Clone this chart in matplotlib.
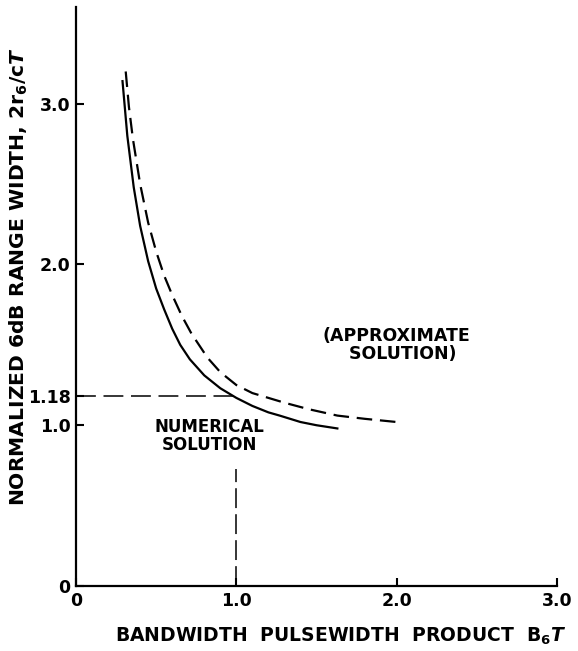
import matplotlib
matplotlib.use("Agg")
import matplotlib.pyplot as plt

plt.rcParams["font.family"] = ["DejaVu Sans"]
plt.rcParams["font.weight"] = "bold"

# Numerical solution (solid curve)
num_x = [0.29, 0.32, 0.36, 0.40, 0.45, 0.50, 0.55, 0.60, 0.65, 0.71, 0.80,
         0.90, 1.00, 1.10, 1.20, 1.27, 1.40, 1.50, 1.63]
num_y = [3.14, 2.80, 2.48, 2.24, 2.02, 1.85, 1.72, 1.60, 1.50, 1.41, 1.31,
         1.23, 1.17, 1.12, 1.08, 1.06, 1.02, 1.00, 0.98]

# Approximate solution (dashed curve)
apx_x = [0.31, 0.33, 0.355, 0.40, 0.45, 0.50, 0.55, 0.60, 0.66, 0.72, 0.82,
         0.90, 1.00, 1.10, 1.20, 1.30, 1.45, 1.63, 1.80, 2.00]
apx_y = [3.20, 2.98, 2.78, 2.50, 2.26, 2.08, 1.93, 1.81, 1.68, 1.57, 1.42,
         1.33, 1.25, 1.20, 1.17, 1.14, 1.10, 1.06, 1.04, 1.02]

# Marked operating point
mark_x = 1.0
mark_y = 1.18

x_ticks = [0, 1.0, 2.0, 3.0]
x_labels = ["0", "1.0", "2.0", "3.0"]
y_ticks = [0, 1.0, 1.18, 2.0, 3.0]
y_labels = ["0", "1.0", "1.18", "2.0", "3.0"]

fig = plt.figure(figsize=(5.78, 6.51), dpi=100)
ax = fig.add_axes([0.1315, 0.0998, 0.9637 - 0.1315, 0.989 - 0.0998])

ax.plot(num_x, num_y, color="black", linewidth=1.6)
ax.plot(apx_x, apx_y, color="black", linewidth=1.6, dashes=(7, 3.5))

# guide lines to the marked point
ax.plot([0, mark_x], [mark_y, mark_y], color="black", linewidth=1.1, dashes=(13, 5))
ax.plot([mark_x, mark_x], [0, 0.73], color="black", linewidth=1.1, dashes=(13, 4))

ax.text(0.83, 0.93, "NUMERICAL\nSOLUTION", ha="center", va="center",
        fontsize=12, fontweight="bold", linespacing=1.0)
ax.text(2.0, 1.50, "(APPROXIMATE\n  SOLUTION)", ha="center", va="center",
        fontsize=12.5, fontweight="bold", linespacing=1.0)

ax.set_xlim(0, 3.0)
ax.set_ylim(0, 3.6)
ax.set_xticks(x_ticks)
ax.set_xticklabels(x_labels, fontsize=12.5, fontweight="bold")
ax.set_yticks(y_ticks)
ax.set_yticklabels(y_labels, fontsize=12.5, fontweight="bold")
ax.tick_params(direction="in", length=6, width=1.5, pad=4)

for s in ["top", "right"]:
    ax.spines[s].set_visible(False)
for s in ["left", "bottom"]:
    ax.spines[s].set_linewidth(1.6)

fig.text(0.033, 0.575, "NORMALIZED 6dB RANGE WIDTH, 2r$_6$/c$\\mathit{T}$",
         rotation=90, ha="center", va="center", fontsize=14.6, fontweight="bold")
fig.text(0.59, 0.022, "BANDWIDTH  PULSEWIDTH  PRODUCT  B$_6$$\\mathit{T}$",
         ha="center", va="center", fontsize=13.5, fontweight="bold")

fig.savefig("out.png", dpi=100)
